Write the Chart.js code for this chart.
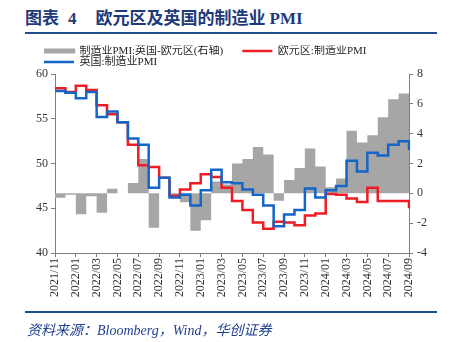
<!DOCTYPE html>
<html>
<head>
<meta charset="utf-8">
<script src="https://cdn.jsdelivr.net/npm/chart.js@4.4.0/dist/chart.umd.min.js"></script>
<style>
  body { margin: 0; width: 452px; height: 342px; position: relative; background: #fff; overflow: hidden; }
  #title { position: absolute; left: 25px; top: 4px; font: bold 17px "Liberation Serif", "Noto Sans CJK SC"; color: #1f3a78; white-space: pre; }
  #title span { display: inline-block; }
  .rule { position: absolute; left: 25px; width: 412px; height: 2px; background: #1f4e8c; }
  #src { position: absolute; left: 27px; top: 319px; font: italic 14px "Liberation Serif", "Noto Sans CJK SC"; color: #1f3f8f; white-space: pre; }
  #myChart { position: absolute; left: 0; top: 0; }
</style>
</head>
<body>
<div id="title"><span>图表</span><span style="margin-left:9px">4</span><span style="margin-left:19px">欧元区及英国的制造业</span><span style="margin-left:4px">PMI</span></div>
<div class="rule" style="top:32px"></div>
<canvas id="myChart" width="452" height="342"></canvas>
<div class="rule" style="top:311px"></div>
<div id="src">资料来源：Bloomberg，Wind，华创证券</div>
<script>
// months on the x axis
var months = [
  "2021/11", "2021/12",
  "2022/01", "2022/02", "2022/03", "2022/04", "2022/05", "2022/06",
  "2022/07", "2022/08", "2022/09", "2022/10", "2022/11", "2022/12",
  "2023/01", "2023/02", "2023/03", "2023/04", "2023/05", "2023/06",
  "2023/07", "2023/08", "2023/09", "2023/10", "2023/11", "2023/12",
  "2024/01", "2024/02", "2024/03", "2024/04", "2024/05", "2024/06",
  "2024/07", "2024/08", "2024/09"
];

// euro area manufacturing PMI (left axis)
var euroPMI = [58.4, 58.0, 58.7, 58.2, 56.5, 55.5, 54.6, 52.1, 49.8, 49.6, 48.4, 46.4,
  47.1, 47.8, 48.8, 48.5, 47.3, 45.8, 44.8, 43.4, 42.7, 43.5, 43.4, 43.1,
  44.2, 44.4, 46.6, 46.5, 46.1, 45.7, 47.3, 45.8, 45.8, 45.8, 45.0];

// uk manufacturing PMI (left axis)
var ukPMI = [58.1, 57.9, 57.3, 58.0, 55.2, 55.8, 54.6, 52.8, 52.1, 47.3, 48.4, 46.2,
  46.5, 45.3, 47.0, 49.3, 47.9, 47.8, 47.1, 46.5, 45.3, 43.0, 44.3, 44.8,
  47.2, 46.2, 47.0, 47.5, 50.3, 49.1, 51.2, 50.9, 52.1, 52.5, 51.5];

// uk minus euro area (right axis)
var gapPMI = [-0.3, -0.1, -1.4, -0.2, -1.3, 0.3, 0.0, 0.7, 2.3, -2.3, 0.0, -0.2,
  -0.6, -2.5, -1.8, 0.8, 0.6, 2.0, 2.3, 3.1, 2.6, -0.5, 0.9, 1.7,
  3.0, 1.8, 0.4, 1.0, 4.2, 3.4, 3.9, 5.1, 6.3, 6.7, 6.5];

var leftTicks = [40, 45, 50, 55, 60];
var rightTicks = [-4, -2, 0, 2, 4, 6, 8];

var tickFont = { family: "'Liberation Serif', 'Noto Sans CJK SC'", size: 12 };
var axisGray = "#7f7f7f";

// legend box starts further right than the page padding
var legendShift = {
  id: "legendShift",
  afterLayout: function (chart) {
    var lg = chart.legend;
    var w = lg.right - lg.left;
    lg.left = 44;
    lg.right = 44 + w;
  }
};

var ctx = document.getElementById("myChart").getContext("2d");

var chart = new Chart(ctx, {
  type: "line",
  data: {
    labels: months,
    datasets: [
      {
        label: "制造业PMI:英国-欧元区(右轴)",
        data: gapPMI,
        yAxisID: "y1",
        stepped: "before",
        fill: "origin",
        backgroundColor: "#a6a6a6",
        borderWidth: 0,
        pointRadius: 0,
        order: 2,
        legendColor: "#a6a6a6"
      },
      {
        label: "欧元区:制造业PMI",
        data: euroPMI,
        yAxisID: "y",
        stepped: "before",
        fill: false,
        borderColor: "#ee1c25",
        borderWidth: 2.5,
        pointRadius: 0,
        order: 1,
        legendColor: "#ee1c25"
      },
      {
        label: "英国:制造业PMI",
        data: ukPMI,
        yAxisID: "y",
        stepped: "before",
        fill: false,
        borderColor: "#1466c6",
        borderWidth: 2.5,
        pointRadius: 0,
        order: 0,
        legendColor: "#1466c6"
      }
    ]
  },
  options: {
    responsive: false,
    animation: false,
    layout: { padding: { left: 25, right: 0, top: 45.5, bottom: 0 } },
    plugins: {
      tooltip: { enabled: false },
      legend: {
        position: "top",
        align: "start",
        maxHeight: 28.5,
        labels: {
          boxWidth: 30,
          boxHeight: 2.5,
          padding: 0,
          color: "#262626",
          font: { family: "'Liberation Serif', 'Noto Sans CJK SC'", size: 11 },
          generateLabels: function (chart) {
            return chart.data.datasets.map(function (ds, i) {
              return {
                text: ds.label + (i == 0 ? "       " : ""),
                fillStyle: ds.legendColor,
                strokeStyle: ds.legendColor,
                lineWidth: i == 0 ? 2.5 : 0,
                hidden: false,
                datasetIndex: i,
                fontColor: "#262626"
              };
            });
          }
        }
      }
    },
    scales: {
      x: {
        type: "category",
        offset: false,
        grid: { drawOnChartArea: false, drawTicks: true, tickLength: 4, color: axisGray },
        border: { color: axisGray, width: 1 },
        ticks: {
          autoSkip: false,
          minRotation: 90,
          maxRotation: 90,
          padding: 1,
          color: "#333",
          font: tickFont
        },
        afterBuildTicks: function (scale) {
          scale.ticks = scale.ticks.filter(function (t, i) { return i % 2 == 0; });
        },
        afterFit: function (scale) { scale.height = 89; }
      },
      y: {
        position: "left",
        min: leftTicks[0],
        max: leftTicks[leftTicks.length - 1],
        grid: { drawOnChartArea: false, tickLength: 4, color: axisGray },
        border: { color: axisGray, width: 1 },
        ticks: { stepSize: 5, padding: 3, color: "#333", font: tickFont },
        afterBuildTicks: function (scale) {
          scale.ticks = leftTicks.map(function (v) { return { value: v }; });
        },
        afterFit: function (scale) { scale.width = 30; }
      },
      y1: {
        position: "right",
        min: rightTicks[0],
        max: rightTicks[rightTicks.length - 1],
        grid: { drawOnChartArea: false, tickLength: 4, color: axisGray },
        border: { color: axisGray, width: 1 },
        ticks: { stepSize: 2, padding: 4, color: "#333", font: tickFont },
        afterBuildTicks: function (scale) {
          scale.ticks = rightTicks.map(function (v) { return { value: v }; });
        },
        afterFit: function (scale) { scale.width = 43; }
      }
    }
  },
  plugins: [legendShift]
});
</script>
</body>
</html>
